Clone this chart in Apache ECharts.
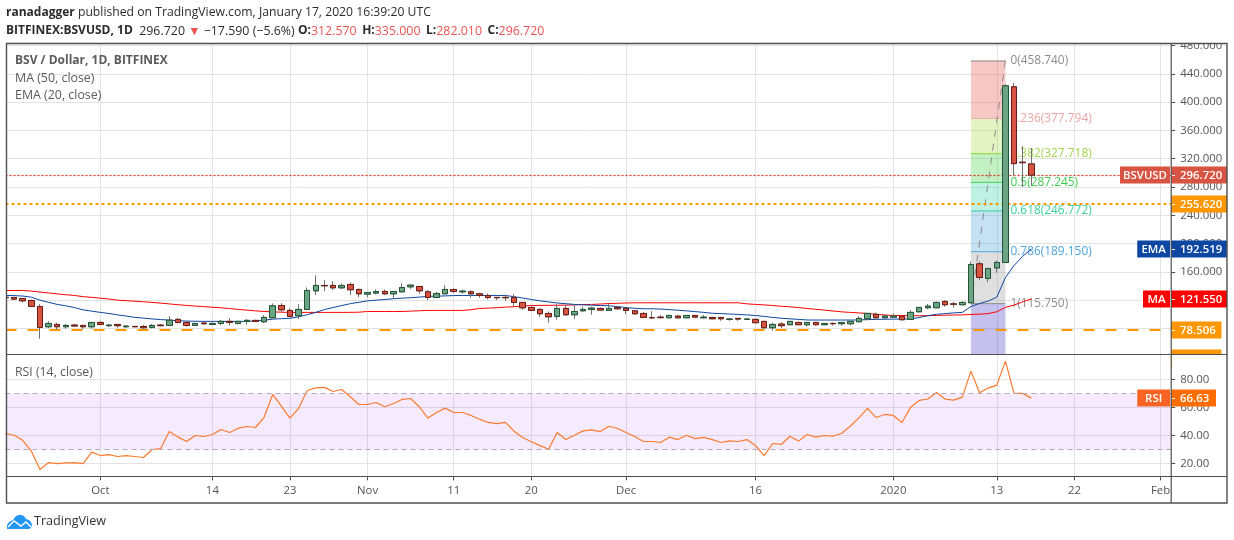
<!DOCTYPE html>
<html><head><meta charset="utf-8">
<style>html,body{margin:0;padding:0;background:#fff}#c{width:1234px;height:540px}</style>
<script src="https://cdn.jsdelivr.net/npm/echarts@6/dist/echarts.min.js"></script>
</head><body><div id="c"></div>
<script>
// ---------- data ----------
const firstDay = Date.UTC(2019, 8, 20);
const opens = [124,123.8,122.4,119.6,111.1,82.4,85.7,82.4,84.8,84.3,82.4,88.5,83.9,85.7,82.4,82.9,82.9,81.5,84.8,84.3,
92.8,88.5,84.3,87.6,85.7,87.1,90,87.1,90,91.4,89.5,95.1,112.5,105.5,98,106.9,133.2,140.8,140.8,137.5,
142.2,135.1,128.5,130,132.3,129,131.8,138.9,139.4,131.8,123.8,129,135.1,131.8,131.8,129,126.6,123.9,123.9,123.8,
116.8,109.7,106.9,101.2,97,108.3,99.4,105,106.9,108.3,105.5,109.7,108.3,105,101.2,95.3,96,95.1,97.5,95.1,
98.4,95.1,95.6,95.6,92.8,94.2,92.8,92.8,90,81,86.2,85.3,88.5,85.3,88.5,85.3,87.1,86.7,86.7,89.5,
93.7,99.9,95.1,96,97,92.8,103.6,109.3,109.3,118.2,114.7,113.5,116.3,171.3,150.7,165.6,173.3,421.6,315,312.57];
const closes = [123.5,121.5,119.1,111.1,81.5,87.1,82.4,84.3,83.4,82.4,88.5,85.7,84.8,83.9,83.4,82.4,81,84.3,83.9,91.8,
88.5,84.3,87.1,86.7,87.1,90,88.5,90,91.4,90,95.6,112,106.4,97,106.9,133.7,140.8,140.3,137.5,140.8,
134.7,129,130.9,132.3,129,132.3,137.9,141.2,133.2,123.8,129.5,135.1,132.3,132.8,129,126.6,123.8,123.4,123.4,116.8,
109.2,105.5,100.8,96.5,108.3,99.4,104,106.9,108.8,106,108.3,107.8,105.5,100.8,95.6,95.1,95.3,98.4,95.1,98.4,
96,96,93.7,93.7,93.3,93.3,93.3,88.1,81,85.7,83.9,90,85.3,88.5,85.3,87.1,86.7,88.5,90,94.2,
101.3,95.1,97.5,97.5,92.3,102.7,109.7,111.6,116.8,113.5,114.3,116.8,170.4,152.1,164.8,173.3,423,313,314.31,296.72];
const lows = [123,120,116.8,110.5,65.5,80.5,78.2,79.6,82.4,79,79.6,85,82.4,81,81,81.5,79.2,80,83,84,
87.1,82.4,83.5,85.3,85,84.3,84.3,85.7,85.3,89,87.6,94.5,103.6,96.5,93.3,106,127.1,132.8,134.2,135.6,
127.1,124.3,124.3,128.1,127.1,122.9,131,135.6,128.5,120,123,128.5,130,129,123.4,123.4,121,120,119,111.6,
106.4,105,96.5,88,92.3,98,93.3,103,99.4,105,105,106.9,100.3,99.4,95,93.7,93.7,94.6,94,94.6,
94.6,93.7,93,90.9,90.9,90.9,92.3,87.6,80.5,76.8,80.5,84.8,84.8,83,84.3,84.8,83.9,83.9,84.8,89,
91.4,91.9,92.8,95.5,92,92.3,103,107.4,108.8,110.7,109.7,113,116,148.3,145.5,158.6,173,296,280,282.01];
const highs = [124.5,124,123,120.5,114.4,90.4,88,86.2,86.2,84.8,89,90.4,85.7,86,84.3,83.4,84.8,86.2,85.7,97.5,
94.7,90.4,88,89.5,88.5,91.8,94.7,90.5,93.3,92.3,98.9,115.4,115.8,108.3,114.4,137.9,155.3,148.3,146.9,143.6,
145,136.5,131.4,135.1,135.1,133,144,142.6,139.8,134.2,131.4,141.2,136.5,134.7,134.2,130.4,129.5,124,128,128.5,
117,111,108.8,104,114.4,113.5,113.5,111,110.6,109.5,115.4,111,109.7,106,103,104.5,98.9,99.4,99,98.9,
98.9,98.9,96,96,94.7,94.5,94.7,94.2,90.5,88,89,90.5,89.5,89,89.5,87.6,88.5,89,90.5,97.5,
101.8,102.7,99.9,101.3,97.5,106,110.5,114.4,118,120,117.3,118.2,174.7,175,165.5,176,425,427,338,335];
const maValues = [133.7,133.7,133.7,132.8,131.5,130.2,128.8,127.7,126.6,125,124,122.8,121.6,120,119.3,118.5,117.7,116.8,115.8,114.7,
113.6,112.5,111.7,110.9,110,109.2,108.1,107,105.9,104.9,104,103.5,103,102.7,102.7,102.7,102.7,102.7,102.7,102.7,
102.8,103,104,104,104,104,104,104.5,105,105.5,105.5,105.5,105.5,105.5,106.5,108.3,108.8,109.3,110.2,110.7,
111.5,112.5,112.6,112.7,112.8,113,113.3,113.8,114,114.5,115.2,115.6,116,116.3,116.3,116.3,116.3,116.3,116.3,116.3,
116.3,116.3,116.3,116.3,116.3,116.3,114.8,114,113.3,112.4,111.4,110.6,109.5,108.2,107.1,105.9,104.7,103.5,102.7,102,
101.2,100,99,98.4,98.2,98,98,98.1,98.4,98.7,99,99.2,99.8,100.2,101,103.6,109.8,113,117.7,121.55];
const emaValues = [126.6,126.4,125.8,124.2,120,116.9,114,112,109.5,106.3,104.5,102.7,101.2,99.2,97.5,95.7,94.6,93.5,92.6,91.7,
91,90.4,90.2,90,90,90,90,90,90,90.6,91.6,93.2,93.8,94.4,96.3,99.5,102.7,106.7,109.6,112.4,
115,117,119,120,120.9,122,122.8,123.5,124.3,125.4,125.6,126,126.5,126.6,126.7,126.7,126.7,126.7,126.6,125,
123,121,119,117.5,116,115,114,113.4,112.9,112.5,112,111,109.5,108.5,107.8,107.8,107.4,106.6,105.8,104.9,
103.8,102.7,101.5,101,100.4,99.8,99.2,98.3,97,95.6,94.4,93.6,92.8,92,91.9,91.9,91.9,91.9,91.9,92,
92.5,92.8,93,93.2,93.3,93.5,95.5,98,100,101,102,102.7,111,115.4,118.6,124.3,152,169,182,192.519];
const rsiValues = [41.6,40.2,36.6,28.8,15.7,20.7,20,20.5,20.7,20,28.1,25.7,26.4,25,25.7,25,24.3,30,30.7,42.8,
39,35.7,40,39.3,40.7,44.3,42.1,45.2,46.4,45.7,53,69.3,60.9,52.4,59.3,72.1,74,74.3,71.4,72.8,
67.6,62.1,62.1,63.5,60.5,62.8,65.7,66.4,60.5,52.4,56.4,59.5,56.4,56.4,54.3,51.6,49.3,48.5,49.3,43.1,
38.6,35.5,32.8,30.2,42.1,37.1,40.2,43.3,44,42.8,46.6,45,42.1,39.3,35.7,35.7,35,38.8,37.1,40.2,
37.8,38.6,37.1,35,36.2,35.7,37.1,32.8,25.7,34.3,33.6,39.5,36,40.7,38.8,40,39.5,41.6,46.6,52.6,
59.3,52.8,55,54.3,49.3,60.2,65,66,70.7,66,65.2,67.4,85.9,70.5,73.8,75.9,93,70,70,66.63];
const priceTicks = [80,120,160,200,240,280,320,360,400,440,480];
const rsiTicks = [20,40,60,80];
const timeTickDates = [[2019,9,1],[2019,9,14],[2019,9,23],[2019,10,1],[2019,10,11],[2019,10,20],[2019,11,1],[2019,11,16],[2020,0,1],[2020,0,13],[2020,0,22],[2020,1,1]];
const timeTickLabels = ['Oct','14','23','Nov','11','20','Dec','16','2020','13','22','Feb'];
const fibRatios = ['0','0.236','0.382','0.5','0.618','0.786','1'];
const fibPrices = [458.74,377.794,327.718,287.245,246.772,189.15,115.75];
const lastPrice = 296.72;
const levelTop = 255.62, levelBottom = 78.506;
const priceTagNames = ['BSVUSD','EMA','MA','',''  ,''];
const priceTagValues = [296.72,192.519,121.55,255.62,78.506,38.2];

// ---------- styling ----------
const DAY = 86400000;
const FONT = '"Open Sans", sans-serif';
const AXF = 11.4;
const day = i => firstDay + i * DAY;
const axisMin = firstDay, axisMax = firstDay + 135.23 * DAY;
const dates = opens.map((_, i) => day(i));
const tickTimes = timeTickDates.map(d => Date.UTC(d[0], d[1], d[2]));
const fibStart = Date.UTC(2020,0,10), fibEnd = Date.UTC(2020,0,14);
const priceMin = 43.9, priceMax = 482.8;
const fibFill = ['rgba(229,57,53,.28)','rgba(165,214,60,.30)','rgba(60,210,60,.30)','rgba(50,210,160,.30)','rgba(60,160,220,.30)','rgba(150,150,150,.30)','rgba(60,50,200,.30)'];
const fibLine = ['#909090','#f0a0a0','#8fd52a','#3fcf4f','#30cf9f','#4ea5dc','#8c8c8c'];
const fibText = ['#8c8c8c','#eda3a3','#a3d550','#3fcf4f','#3bd0a0','#4ea5dc','#8c8c8c'];
const tagColors = ['#d75442','#0d47a1','#ff0000','#ff9800','#ff9800','#ff9800'];
const UP='#6ba583', DOWN='#d75442', UPB='#225437', DOWNB='#6b1c12', WICK='#737375';
const GRID='#e3e3e3', TXT='#555', FRAME='#505050';

const wickData = dates.map((d,i)=>[d,opens[i],closes[i],lows[i],highs[i]]);
const bodyData = dates.map((d,i)=>[d,opens[i],closes[i],Math.min(opens[i],closes[i]),Math.max(opens[i],closes[i])]);

function xAxisCfg(gridIndex, showLabels){
  return {type:'value',gridIndex,min:axisMin,max:axisMax,scale:true,
    axisLine:{show:false},
    axisTick:{show:showLabels,customValues:tickTimes,length:4,lineStyle:{color:FRAME}},
    splitLine:{show:true,lineStyle:{color:GRID,width:1}},
    axisLabel:{show:showLabels,customValues:tickTimes,hideOverlap:false,showMinLabel:true,showMaxLabel:true,
      color:TXT,fontFamily:FONT,fontSize:AXF,margin:9,
      formatter:v=>{const k=tickTimes.indexOf(+v);return k>=0?timeTickLabels[k]:'';}}};
}
function yAxisCfg(gridIndex,min,max,ticks,dec){
  return {type:'value',gridIndex,position:'right',min,max,scale:true,
    axisLine:{show:false},
    axisTick:{show:true,customValues:ticks,length:4,lineStyle:{color:FRAME}},
    splitLine:{show:true,lineStyle:{color:GRID,width:1}},
    axisLabel:{customValues:ticks,color:TXT,fontFamily:FONT,fontSize:AXF,margin:9,hideOverlap:false,showMinLabel:true,showMaxLabel:true,
      padding:[2,0,0,0],formatter:v=>(+v).toFixed(dec)}};
}
function hLine(value,color,width,dash){
  return {yAxis:value,lineStyle:{color,width,type:dash}};
}

function fibItem(params,api){
  const i=params.dataIndex;
  const xa=api.coord([api.value(0),api.value(2)]);
  const xb=api.coord([api.value(1),api.value(3)]);
  return {type:'group',children:[
    {type:'rect',shape:{x:xa[0],y:xa[1],width:xb[0]-xa[0],height:xb[1]-xa[1]},style:{fill:fibFill[i]}},
    {type:'line',shape:{x1:xa[0],y1:xa[1]+.5,x2:xb[0],y2:xa[1]+.5},style:{stroke:fibLine[i],lineWidth:1}},
    {type:'text',style:{text:fibRatios[i]+'('+fibPrices[i].toFixed(3)+')',x:xb[0]+5,y:xa[1]+.5,fill:fibText[i],fontFamily:FONT,fontSize:11.9,
      textAlign:'left',textVerticalAlign:'middle',verticalAlign:'middle',stroke:'rgba(255,255,255,.7)',lineWidth:1.5}}
  ]};
}
function tagItem(names,values,colors,dec,nameColor){
  return function(params,api){
    const i=params.dataIndex;
    const p=api.coord([api.value(0),api.value(1)]);
    const X=Math.round(p[0]), Y=Math.round(p[1]);
    const txt=values[i].toFixed(dec);
    const w=5.5*txt.length+17.5, H=17;
    const kids=[
      {type:'rect',shape:{x:X,y:Y-8.5,width:w,height:H},style:{fill:colors[i]}},
      {type:'line',shape:{x1:X,y1:Y+.5,x2:X+4,y2:Y+.5},style:{stroke:'#fff',lineWidth:1}},
      {type:'text',style:{text:txt,x:X+9,y:Y+.5,fill:'#fff',fontFamily:FONT,fontSize:AXF,fontWeight:600,textAlign:'left',textVerticalAlign:'middle',verticalAlign:'middle'}}
    ];
    if(names[i]){
      const nw=5.75*names[i].length+15.5;
      kids.push({type:'rect',shape:{x:X-1-nw,y:Y-8.5,width:nw,height:H},style:{fill:nameColor||colors[i]}});
      kids.push({type:'text',style:{text:names[i],x:X-1-nw/2,y:Y+.5,fill:'#fff',fontFamily:FONT,fontSize:AXF,fontWeight:600,textAlign:'center',textVerticalAlign:'middle',verticalAlign:'middle'}});
    }
    return {type:'group',children:kids};
  };
}

const option={
  animation:false,backgroundColor:'#fff',
  textStyle:{fontFamily:FONT},
  grid:[
    {left:5.5,top:43.5,width:1165.7,height:310.5,containLabel:false},
    {left:5.5,top:355,width:1165.7,height:121.3,containLabel:false}
  ],
  xAxis:[xAxisCfg(0,false),xAxisCfg(1,true)],
  yAxis:[yAxisCfg(0,priceMin,priceMax,priceTicks,3),yAxisCfg(1,10.9,97.4,rsiTicks,2)],
  series:[
    {type:'custom',name:'Fib',xAxisIndex:0,yAxisIndex:0,z:1,clip:true,silent:true,
     data:fibPrices.map((p,i)=>[fibStart,fibEnd,p,i<fibPrices.length-1?fibPrices[i+1]:priceMin]),
     encode:{x:[0,1],y:[2,3]},renderItem:fibItem},
    {type:'line',name:'Fib trend',xAxisIndex:0,yAxisIndex:0,z:2,symbol:'none',silent:true,
     data:[[fibStart,fibPrices[6]],[fibEnd,fibPrices[0]]],lineStyle:{color:'#8a8a8a',width:1,type:[7,7]}},
    {type:'line',name:'MA (50, close)',xAxisIndex:0,yAxisIndex:0,z:3,symbol:'none',silent:true,
     data:dates.map((d,i)=>[d,maValues[i]]),lineStyle:{color:'#ff0000',width:1}},
    {type:'line',name:'EMA (20, close)',xAxisIndex:0,yAxisIndex:0,z:3,symbol:'none',silent:true,
     data:dates.map((d,i)=>[d,emaValues[i]]),lineStyle:{color:'#0d47a1',width:1},
     markLine:{silent:true,symbol:'none',animation:false,label:{show:false},z:3,data:[
       hLine(lastPrice,'#d9341f',1.2,[2,2]),
       hLine(levelTop,'#ff9800',2,[3,3]),
       hLine(levelBottom,'#ff9800',2,[11,11])
     ]}},
    {type:'candlestick',name:'Wick',xAxisIndex:0,yAxisIndex:0,z:4,silent:true,barWidth:6,data:wickData,
     itemStyle:{color:WICK,color0:WICK,borderColor:WICK,borderColor0:WICK,borderWidth:1}},
    {type:'candlestick',name:'BSV / Dollar',xAxisIndex:0,yAxisIndex:0,z:5,silent:true,barWidth:6,data:bodyData,
     itemStyle:{color:UP,color0:DOWN,borderColor:UPB,borderColor0:DOWNB,borderWidth:1}},
    {type:'line',name:'RSI (14, close)',xAxisIndex:1,yAxisIndex:1,z:4,symbol:'none',silent:true,
     data:dates.map((d,i)=>[d,rsiValues[i]]),lineStyle:{color:'#fb7a2e',width:1.2},
     markArea:{silent:true,itemStyle:{color:'rgba(149,30,245,.095)'},data:[[{yAxis:70},{yAxis:30}]]},
     markLine:{silent:true,symbol:'none',animation:false,label:{show:false},data:[
       hLine(70,'#b5a9bd',1,[5,4]),hLine(30,'#b5a9bd',1,[5,4])]}},
    {type:'custom',name:'Price tags',xAxisIndex:0,yAxisIndex:0,z:20,clip:false,silent:true,
     data:priceTagValues.map(v=>[axisMax,v]),encode:{x:0,y:1},
     renderItem:tagItem(priceTagNames,priceTagValues,tagColors,3)},
    {type:'custom',name:'RSI tag',xAxisIndex:1,yAxisIndex:1,z:20,clip:false,silent:true,
     data:[[axisMax,rsiValues[rsiValues.length-1]]],encode:{x:0,y:1},
     renderItem:tagItem(['RSI'],[rsiValues[rsiValues.length-1]],['#ff6d00'],2,'#f96424')}
  ],
  graphic:[
    {type:'rect',z:100,shape:{x:1172,y:354.5,width:54,height:16},style:{fill:'#fff'}},
    {type:'rect',z:100,shape:{x:1172,y:30,width:54,height:13},style:{fill:'#fff'}},
    {type:'rect',z:100,shape:{x:0,y:44,width:6,height:310},style:{fill:'#fff'}},
    {type:'rect',z:101,shape:{x:6.5,y:43.5,width:1220.5,height:459.5},style:{fill:'none',stroke:FRAME,lineWidth:1.4}},
    {type:'line',z:101,shape:{x1:6.5,y1:354.5,x2:1227,y2:354.5},style:{stroke:FRAME,lineWidth:1.2}},
    {type:'line',z:101,shape:{x1:6.5,y1:476.5,x2:1227,y2:476.5},style:{stroke:FRAME,lineWidth:1.2}},
    {type:'line',z:101,shape:{x1:1171.2,y1:43.5,x2:1171.2,y2:503},style:{stroke:FRAME,lineWidth:1.2}},
    {type:'text',z:102,x:6,y:7,style:{text:'{b|ranadagger}{n| published on TradingView.com, January 17, 2020 16:39:20 UTC}',fill:'#2c2c2c',fontFamily:FONT,fontSize:12.2,
      rich:{b:{fontWeight:'bold',fontFamily:FONT,fontSize:12,fill:'#2c2c2c'},n:{fontFamily:FONT,fontSize:12.2,fill:'#2c2c2c'}}}},
    {type:'text',z:102,x:6,y:25,style:{text:'{b|BITFINEX:BSVUSD, 1D}{n|  296.720 }{r|▼}{n| −17.590 (−5.6%) }{b|O:}{r|312.570}{s| }{b|H:}{r|335.000}{s| }{b|L:}{r|282.010}{s| }{b|C:}{r|296.720}',fill:'#2c2c2c',fontFamily:FONT,fontSize:12.2,
      rich:{b:{fontWeight:'bold',fontFamily:FONT,fontSize:12,fill:'#2c2c2c'},n:{fontFamily:FONT,fontSize:12.4,fill:'#2c2c2c'},s:{fontFamily:FONT,fontSize:12.4,width:5.5},r:{fontFamily:FONT,fontSize:12.4,fill:'#ef5350'}}}},
    {type:'text',z:102,x:15,y:55,style:{text:'BSV / Dollar, 1D, BITFINEX',fill:'#5a5a5a',fontFamily:FONT,fontWeight:'bold',fontSize:12}},
    {type:'text',z:102,x:15,y:72,style:{text:'MA (50, close)',fill:'#5a5a5a',fontFamily:FONT,fontSize:12.4}},
    {type:'text',z:102,x:15,y:89,style:{text:'EMA (20, close)',fill:'#5a5a5a',fontFamily:FONT,fontSize:12.4}},
    {type:'text',z:102,x:15,y:366,style:{text:'RSI (14, close)',fill:'#5a5a5a',fontFamily:FONT,fontSize:12.3}},
    {type:'polygon',z:102,shape:{points:[[7,529],[7,525],[9,522],[13,520],[15,517],[18,515],[21,515],[24,516],[26,519],[29,520],[31,522],[32,525],[31,528],[29,529]]},style:{fill:'#2196f3'}},
    {type:'polyline',z:103,shape:{points:[[8,527],[14,521],[21,526],[26,522],[31,527]]},style:{fill:'none',stroke:'#fff',lineWidth:1.4}},
    {type:'text',z:102,x:34,y:515,style:{text:'TradingView',fill:'#333',fontFamily:FONT,fontSize:12.6}}
  ]
};
const chart=echarts.init(document.getElementById('c'),null,{renderer:'canvas',width:1234,height:540});
chart.setOption(option);
</script></body></html>
